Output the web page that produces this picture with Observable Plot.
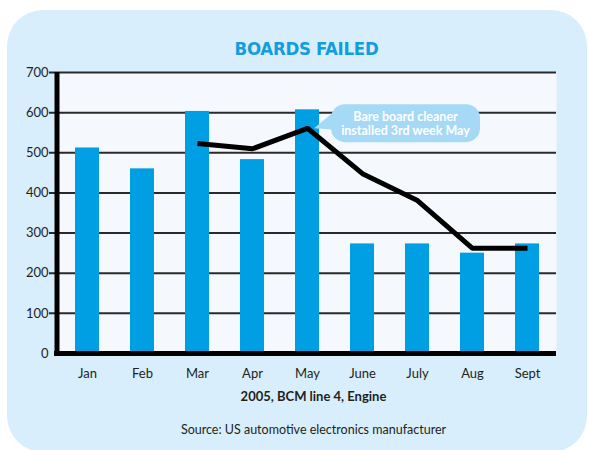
<!DOCTYPE html>
<html>
<head>
<meta charset="utf-8">
<script src="https://cdn.jsdelivr.net/npm/d3@7"></script>
<script src="https://cdn.jsdelivr.net/npm/@observablehq/plot@0.6"></script>
<style>
  html, body { margin: 0; padding: 0; background: #ffffff; }
  #page { position: relative; width: 589px; height: 450px; overflow: hidden; }
  #box { position: absolute; left: 7px; top: 10px; width: 580px; height: 442px; border-radius: 36px; background: #d8eefc; }
  .txt { position: absolute; left: 57px; width: 499px; text-align: center; line-height: 1; white-space: nowrap; color: #231f20; font-family: Lato, "Open Sans", sans-serif; }
  #title { top: 40px; font-family: "DejaVu Sans Condensed", "DejaVu Sans", sans-serif; font-weight: bold; font-size: 18.5px; letter-spacing: -0.3px; color: #129ddf; }
  #subtitle { top: 390px; font-weight: bold; font-size: 13px; left: 64px; }
  #source { top: 424px; font-size: 12.5px; left: 64px; }
  #chart { position: absolute; left: 0; top: 60px; }
</style>
</head>
<body>
<div id="page">
  <div id="box"></div>
  <div id="title" class="txt"></div>
  <div id="chart"></div>
  <div id="subtitle" class="txt"></div>
  <div id="source" class="txt"></div>
</div>
<script>
// ---- Data ----
const months = ["Jan", "Feb", "Mar", "Apr", "May", "June", "July", "Aug", "Sept"];
const boardsFailed = [512, 460, 603, 483, 607, 273, 273, 250, 273];
const trendMonths = ["Mar", "Apr", "May", "June", "July", "Aug", "Sept"];
const trendValues = [523, 510, 561, 448, 381, 262, 262];
const yTicks = [0, 100, 200, 300, 400, 500, 600, 700];
const gridTicks = [100, 200, 300, 400, 500, 600, 700];
const titleText = "BOARDS FAILED";
const subtitleText = "2005, BCM line 4, Engine";
const sourceText = "Source: US automotive electronics manufacturer";
const noteLines = ["Bare board cleaner", "installed 3rd week May"];
const noteMonth = "May";
const noteValue = 560;

document.getElementById("title").textContent = titleText;
document.getElementById("subtitle").textContent = subtitleText;
document.getElementById("source").textContent = sourceText;

const bars = months.map((m, i) => ({month: m, value: boardsFailed[i]}));
const trend = trendMonths.map((m, i) => ({month: m, value: trendValues[i]}));

const chart = Plot.plot({
  width: 589,
  height: 340,
  marginLeft: 57,
  marginRight: 33,
  marginTop: 12,
  marginBottom: 47,
  style: {background: "transparent", fontFamily: "Lato, 'Open Sans', sans-serif", fontSize: "13px", color: "#231f20"},
  x: {domain: months, paddingInner: 0.57, paddingOuter: 0.29, tickSize: 0, tickPadding: 15, label: null},
  y: {domain: [0, 700], ticks: yTicks, tickSize: 0, tickPadding: 9, label: null},
  marks: [
    Plot.frame({fill: "#f5f9fd", stroke: null}),
    Plot.ruleY(gridTicks, {stroke: "#2a2a2a", strokeWidth: 2, insetLeft: -8}),
    Plot.barY(bars, {x: "month", y: "value", fill: "#009fe3"}),
    Plot.ruleY([0], {stroke: "#000", strokeWidth: 5, insetLeft: -3}),
    Plot.line(trend, {x: "month", y: "value", stroke: "#000", strokeWidth: 5, strokeLinejoin: "miter", strokeLinecap: "butt"})
  ]
});
document.getElementById("chart").appendChild(chart);

// Axis line and callout, positioned from the chart's own scales
const xs = chart.scale("x");
const ys = chart.scale("y");
const svg = d3.select(chart.tagName.toLowerCase() === "svg" ? chart : chart.querySelector("svg"));
const left = xs.range[0];
svg.append("line")
  .attr("x1", left).attr("x2", left)
  .attr("y1", ys.apply(700)).attr("y2", ys.apply(0) + 2.5)
  .attr("stroke", "#000").attr("stroke-width", 5);

const tipX = xs.apply(noteMonth) + xs.bandwidth / 2 + 7;
const tipY = ys.apply(noteValue);
const bx = tipX + 17, by = tipY - 24, bw = 149, bh = 38;
const g = svg.append("g");
g.append("path")
  .attr("d", `M${tipX},${tipY} L${bx + 6},${by + 5} L${bx + 10},${tipY + 2} Z`)
  .attr("fill", "#a5d9f6");
g.append("rect")
  .attr("x", bx).attr("y", by).attr("width", bw).attr("height", bh)
  .attr("rx", 14).attr("fill", "#a5d9f6");
g.selectAll("text").data(noteLines).join("text")
  .attr("x", bx + bw / 2)
  .attr("y", (d, i) => tipY - 7 + i * 14)
  .attr("text-anchor", "middle")
  .attr("fill", "#ffffff")
  .attr("font-family", "Lato, 'Open Sans', sans-serif")
  .attr("font-weight", "bold")
  .attr("font-size", "12.5px")
  .text(d => d);
</script>
</body>
</html>
